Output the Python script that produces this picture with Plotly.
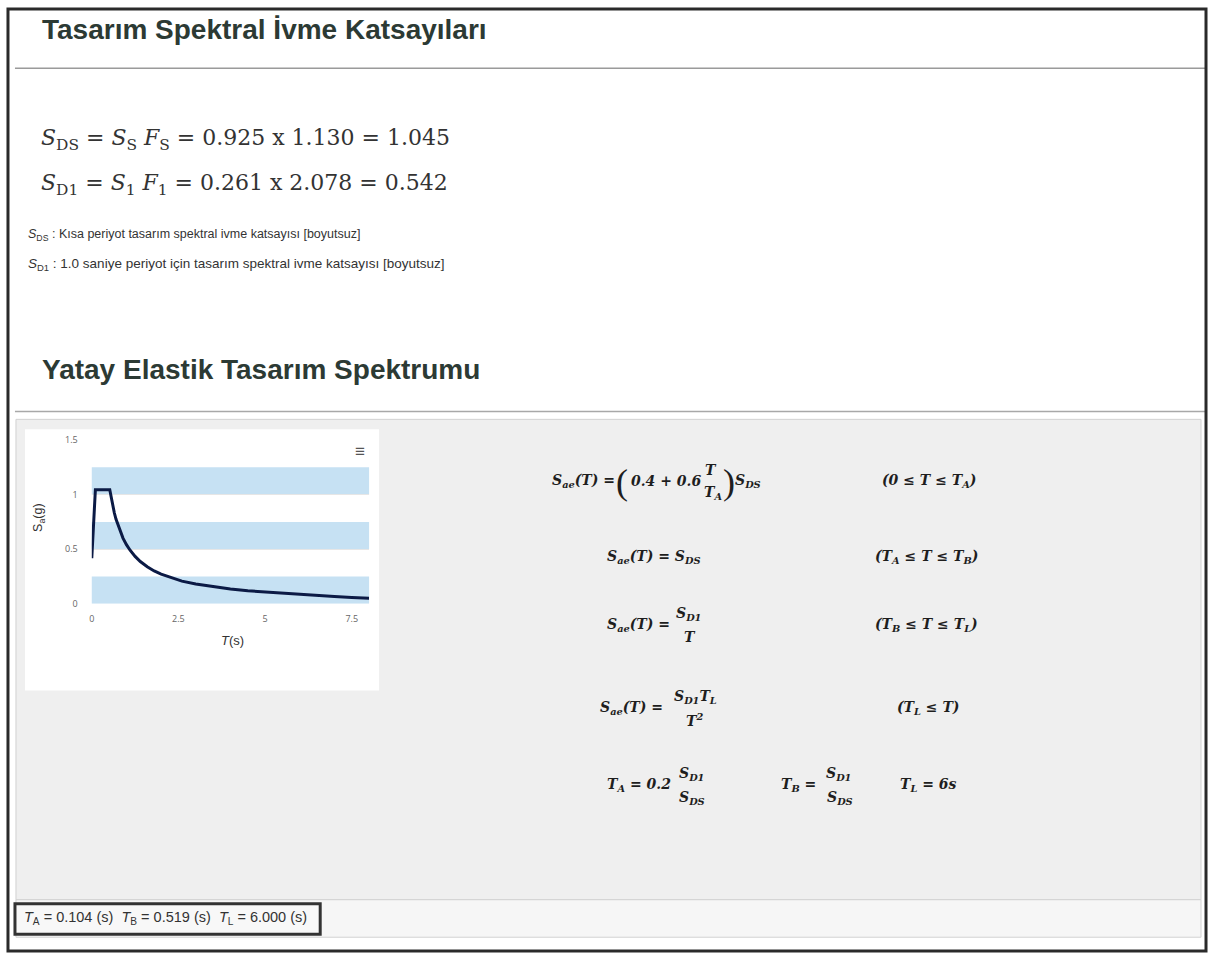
import plotly.graph_objects as go

# ---------------- data ----------------
T_VALUES = [0, 0.104, 0.519, 0.55, 0.6, 0.65, 0.7, 0.8, 0.9, 1.0, 1.1, 1.25, 1.4, 1.6,
            1.8, 2.0, 2.3, 2.6, 3.0, 3.5, 4.0, 4.5, 5.0, 5.5, 6.0, 6.5, 7.0, 7.5, 8.0]
SA_VALUES = [0.418, 1.045, 1.045, 0.985, 0.903, 0.834, 0.774, 0.678, 0.602, 0.542, 0.493,
             0.434, 0.387, 0.339, 0.301, 0.271, 0.236, 0.208, 0.181, 0.155, 0.136, 0.120,
             0.108, 0.099, 0.090, 0.077, 0.066, 0.058, 0.051]
X_TICKS = [0, 2.5, 5, 7.5]
X_TICK_LABELS = ["0", "2.5", "5", "7.5"]
Y_TICKS = [0, 0.5, 1, 1.5]
Y_TICK_LABELS = ["0", "0.5", "1", "1.5"]
BANDS = [(0, 0.25), (0.5, 0.75), (1.0, 1.25)]

SS, FS, SDS = "0.925", "1.130", "1.045"
S1, F1, SD1 = "0.261", "2.078", "0.542"
TA, TB, TL = "0.104", "0.519", "6.000"

# ---------------- page helpers ----------------
W, H = 1208, 960


def X(px):
    return px / W


def Y(py):
    return 1 - py / H


anns = []
shapes = []


def text(px, py, t, size=12, color="#333", family="Liberation Sans", xanchor="left",
         yanchor="middle", angle=0):
    anns.append(dict(x=X(px), y=Y(py), xref="paper", yref="paper", text=t, showarrow=False,
                     xanchor=xanchor, yanchor=yanchor, textangle=angle, borderpad=0,
                     font=dict(size=size, color=color, family=family)))


def rect(x0, y0, x1, y1, fill="rgba(0,0,0,0)", line="rgba(0,0,0,0)", lw=1):
    shapes.append(dict(type="rect", xref="paper", yref="paper", x0=X(x0), x1=X(x1),
                       y0=Y(y1), y1=Y(y0), fillcolor=fill, line=dict(color=line, width=lw),
                       layer="below"))


def hline(x0, x1, y, color="#999", lw=1.5):
    shapes.append(dict(type="line", xref="paper", yref="paper", x0=X(x0), x1=X(x1),
                       y0=Y(y), y1=Y(y), line=dict(color=color, width=lw), layer="below"))


# page structure
rect(13, 418, 1201, 905, fill="#efefef", line="#d2d2d2", lw=1)
rect(13, 905, 1201, 943, fill="#f6f6f6", line="#d2d2d2", lw=1)
hline(12, 1205, 62, "#9a9a9a", 1.5)
hline(12, 1205, 410, "#a8a8a8", 1.5)
rect(22, 428, 377, 693, fill="#ffffff")
rect(12, 909, 318, 940, fill="#f8f8f8", line="#333333", lw=3)
rect(5, 2, 1206, 957, line="#2a2a2a", lw=3)

HEAD = "#2c3a34"
text(38, 23, "<b>Tasarım Spektral İvme Katsayıları</b>", size=28, color=HEAD)
text(38, 367, "<b>Yatay Elastik Tasarım Spektrumu</b>", size=28, color=HEAD)

MF = "DejaVu Serif"
text(37, 134, "<i>S</i><sub>DS</sub> = <i>S</i><sub>S</sub> <i>F</i><sub>S</sub> = "
     + SS + " x " + FS + " = " + SDS, size=22, color="#333", family=MF)
text(37, 180, "<i>S</i><sub>D1</sub> = <i>S</i><sub>1</sub> <i>F</i><sub>1</sub> = "
     + S1 + " x " + F1 + " = " + SD1, size=22, color="#333", family=MF)

text(24, 231, "<i>S</i><sub>DS</sub> : Kısa periyot tasarım spektral ivme katsayısı [boyutsuz]",
     size=12.5, color="#333")
text(24, 261, "<i>S</i><sub>D1</sub> : 1.0 saniye periyot için tasarım spektral ivme katsayısı [boyutsuz]",
     size=13.5, color="#333")

text(20, 924, "<i>T</i><sub>A</sub> = " + TA + " (s)&nbsp;&nbsp;<i>T</i><sub>B</sub> = " + TB
     + " (s)&nbsp;&nbsp;<i>T</i><sub>L</sub> = " + TL + " (s)", size=14.5, color="#333")

# formulas (right side)
FC = "#1e1e1e"
FS_ = 14


def f(px, py, t, xanchor="left", size=FS_):
    text(px, py, "<b><i>" + t + "</i></b>", size=size, color=FC, family=MF, xanchor=xanchor)


def paren(px, py, t):
    text(px, py, t, size=36, color=FC, family="Liberation Serif", xanchor="left")


SAE = "S<sub>ae</sub>(T) ="
# 1
f(549, 481, SAE)
paren(614, 482, "(")
f(629, 481, "0.4 + 0.6")
f(710, 469, "T", xanchor="center")
f(712, 493, "T<sub>A</sub>", xanchor="center")
paren(721, 482, ")")
f(733, 481, "S<sub>DS</sub>")
f(880, 481, "(0 ≤ T ≤ T<sub>A</sub>)")
# 2
f(605, 558, SAE + " S<sub>DS</sub>")
f(873, 558, "(T<sub>A</sub> ≤ T ≤ T<sub>B</sub>)")
# 3
f(605, 626, SAE)
f(687, 615, "S<sub>D1</sub>", xanchor="center")
f(689, 639, "T", xanchor="center")
f(873, 626, "(T<sub>B</sub> ≤ T ≤ T<sub>L</sub>)")
# 4
f(597, 711, SAE)
f(694, 699, "S<sub>D1</sub>T<sub>L</sub>", xanchor="center")
f(693, 723, "T<sup>2</sup>", xanchor="center")
f(895, 711, "(T<sub>L</sub> ≤ T)")
# 5
f(605, 789, "T<sub>A</sub> = 0.2")
f(690, 778, "S<sub>D1</sub>", xanchor="center")
f(691, 802, "S<sub>DS</sub>", xanchor="center")
f(779, 789, "T<sub>B</sub> =")
f(838, 778, "S<sub>D1</sub>", xanchor="center")
f(839, 802, "S<sub>DS</sub>", xanchor="center")
f(898, 789, "T<sub>L</sub> = 6s")

# chart titles / icon
text(36, 517, "S<sub>a</sub>(g)", size=12.5, color="#333", xanchor="center", angle=-90)
text(230, 642, "<i>T</i>(s)", size=13, color="#333", xanchor="center")
text(358, 451, "≡", size=17, color="#555", xanchor="center")

# bands
for b0, b1 in BANDS:
    shapes.append(dict(type="rect", xref="x domain", yref="y", x0=0, x1=1, y0=b0, y1=b1,
                       fillcolor="#c6e1f3", line=dict(width=0), layer="below"))

fig = go.Figure()
fig.add_trace(go.Scatter(x=T_VALUES, y=SA_VALUES, mode="lines",
                         line=dict(color="#0b1a45", width=3), hoverinfo="skip",
                         showlegend=False))

fig.update_layout(
    width=W, height=H, margin=dict(l=0, r=0, t=0, b=0),
    paper_bgcolor="#ffffff", plot_bgcolor="rgba(0,0,0,0)",
    annotations=anns, shapes=shapes, showlegend=False,
    xaxis=dict(domain=[X(89), X(367)], range=[0, 8], tickvals=X_TICKS, ticktext=X_TICK_LABELS,
               showgrid=False, zeroline=False, showline=False, ticks="",
               tickfont=dict(size=9, color="#666"), ticklabelstandoff=8, fixedrange=True),
    yaxis=dict(domain=[Y(605), Y(439)], range=[0, 1.5], tickvals=Y_TICKS, ticktext=Y_TICK_LABELS,
               showgrid=True, gridcolor="#e6e6e6", gridwidth=1, zeroline=False, showline=False,
               ticks="", tickfont=dict(size=9, color="#666"), ticklabelstandoff=13,
               fixedrange=True),
)

fig.write_html("out.html", config={"displayModeBar": False},
               post_script="document.body.style.margin='0';document.body.style.overflow='hidden';")
